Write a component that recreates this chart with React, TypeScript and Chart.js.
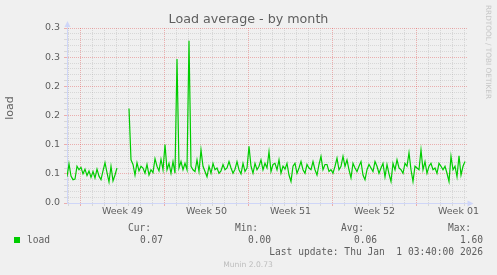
import React, { useEffect, useRef } from 'react';
import { Chart, registerables } from 'chart.js';

Chart.register(...registerables);

// ---------- data ----------
const TITLE = 'Load average - by month';
const Y_AXIS_TITLE = 'load';
const SERIES_NAME = 'load';
const WATERMARK = 'RRDTOOL / TOBI OETIKER';
const VERSION = 'Munin 2.0.73';
const LAST_UPDATE = 'Last update: Thu Jan  1 03:40:00 2026';

const STAT_HEADERS = ['Cur:', 'Min:', 'Avg:', 'Max:'];
const STAT_VALUES = ['0.07', '0.00', '0.06', '1.60'];

const SAMPLE_STEP_HOURS = 4;
const X_MAX_HOURS = 800;
const WEEK_LABELS = ['Week 49', 'Week 50', 'Week 51', 'Week 52', 'Week 01'];
const WEEK_START_HOURS = [27, 195, 363, 531, 699];
const WEEK_LABEL_HOURS = [111, 279, 447, 615, 783];
const FIRST_DAY_LINE_HOUR = 3;
const DAY_HOURS = 24;

const Y_MAX = 0.3;
const Y_TICK_LABELS = ['0.0', '0.1', '0.1', '0.2', '0.2', '0.3', '0.3'];
const Y_MINOR_PER_MAJOR = 5;

const LOAD: (number | null)[] = [
  0.045, 0.067, 0.046, 0.040, 0.041, 0.063, 0.057, 0.061, 0.050, 0.058,
  0.047, 0.055, 0.044, 0.054, 0.043, 0.058, 0.046, 0.040, 0.055, 0.069,
  0.052, 0.036, 0.063, 0.038, 0.048, 0.060, null, null, null, null,
  null, 0.162, 0.074, 0.066, 0.048, 0.069, 0.055, 0.063, 0.060, 0.051,
  0.066, 0.048, 0.057, 0.052, 0.076, 0.063, 0.055, 0.075, 0.057, 0.100,
  0.057, 0.068, 0.051, 0.071, 0.051, 0.247, 0.060, 0.071, 0.057, 0.068,
  0.057, 0.278, 0.063, 0.057, 0.054, 0.074, 0.054, 0.091, 0.063, 0.054,
  0.045, 0.063, 0.051, 0.068, 0.057, 0.060, 0.051, 0.055, 0.066, 0.057,
  0.060, 0.071, 0.060, 0.051, 0.058, 0.071, 0.057, 0.050, 0.068, 0.054,
  0.060, 0.097, 0.063, 0.051, 0.068, 0.057, 0.063, 0.074, 0.057, 0.068,
  0.060, 0.088, 0.054, 0.066, 0.068, 0.057, 0.074, 0.051, 0.063, 0.058,
  0.068, 0.048, 0.037, 0.063, 0.068, 0.051, 0.060, 0.071, 0.057, 0.051,
  0.066, 0.060, 0.057, 0.071, 0.057, 0.048, 0.066, 0.080, 0.057, 0.066,
  0.066, 0.054, 0.057, 0.051, 0.063, 0.077, 0.057, 0.063, 0.080, 0.063,
  0.074, 0.057, 0.043, 0.068, 0.060, 0.054, 0.063, 0.071, 0.048, 0.040,
  0.057, 0.066, 0.060, 0.054, 0.071, 0.063, 0.051, 0.060, 0.068, 0.045,
  0.066, 0.050, 0.037, 0.068, 0.057, 0.074, 0.060, 0.057, 0.051, 0.068,
  0.063, 0.086, 0.057, 0.037, 0.063, 0.060, 0.057, 0.091, 0.057, 0.071,
  0.051, 0.063, 0.068, 0.057, 0.060, 0.051, 0.068, 0.063, 0.057, 0.063,
  0.051, 0.037, 0.080, 0.057, 0.063, 0.045, 0.081, 0.048, 0.063, 0.071,
];

// ---------- style ----------
const W = 497;
const H = 275;
const BG = '#f0f0f0';
const FONT_COLOR = '#5e5e5e';
const AXIS_COLOR = '#cfd6f8';
const GRID_MINOR = 'rgba(143,143,143,0.26)';
const GRID_MAJOR = 'rgba(222,48,48,0.34)';
const LINE_COLOR = '#00cc00';
const SANS = "'DejaVu Sans', 'Noto Sans', sans-serif";
const MONO = "'DejaVu Sans Mono', monospace";

const axisArrows = {
  id: 'axisArrows',
  afterDraw(chart: any) {
    const { ctx, chartArea: a } = chart;
    ctx.save();
    ctx.fillStyle = AXIS_COLOR;
    ctx.strokeStyle = AXIS_COLOR;
    ctx.lineWidth = 1;
    // y arrow
    ctx.beginPath();
    ctx.moveTo(a.left + 0.5, a.top - 1);
    ctx.lineTo(a.left + 0.5, a.top + 1);
    ctx.stroke();
    ctx.beginPath();
    ctx.moveTo(a.left + 0.5, a.top - 7);
    ctx.lineTo(a.left - 2.5, a.top - 1);
    ctx.lineTo(a.left + 3.5, a.top - 1);
    ctx.closePath();
    ctx.fill();
    // x arrow
    ctx.beginPath();
    ctx.moveTo(a.right - 1, a.bottom + 0.5);
    ctx.lineTo(a.right + 1, a.bottom + 0.5);
    ctx.stroke();
    ctx.beginPath();
    ctx.moveTo(a.right + 6.5, a.bottom + 0.5);
    ctx.lineTo(a.right + 0.5, a.bottom - 2.5);
    ctx.lineTo(a.right + 0.5, a.bottom + 3.5);
    ctx.closePath();
    ctx.fill();
    ctx.restore();
  },
};

type TextProps = {
  x: number;
  baseline: number;
  size: number;
  family?: string;
  color?: string;
  align?: 'left' | 'right' | 'center';
  children: React.ReactNode;
};

function Txt({ x, baseline, size, family = SANS, color = FONT_COLOR, align = 'left', children }: TextProps) {
  const style: React.CSSProperties = {
    position: 'absolute',
    top: baseline - 0.846 * size,
    fontFamily: family,
    fontSize: size,
    lineHeight: `${size}px`,
    color,
    whiteSpace: 'pre',
    margin: 0,
  };
  if (align === 'right') style.right = W - x;
  else if (align === 'center') {
    style.left = x - 200;
    style.width = 400;
    style.textAlign = 'center';
  } else style.left = x;
  return <div style={style}>{children}</div>;
}

export default function App() {
  const canvasRef = useRef<HTMLCanvasElement | null>(null);

  useEffect(() => {
    if (!canvasRef.current) return;
    const dayLines: number[] = [];
    for (let h = FIRST_DAY_LINE_HOUR; h <= X_MAX_HOURS; h += DAY_HOURS) dayLines.push(h);
    const xTickValues = [...dayLines, ...WEEK_LABEL_HOURS].sort((a, b) => a - b);
    const yCount = (Y_TICK_LABELS.length - 1) * Y_MINOR_PER_MAJOR;
    const yTickValues: number[] = [];
    for (let i = 0; i <= yCount; i++) yTickValues.push((Y_MAX * i) / yCount);

    const chart = new Chart(canvasRef.current, {
      type: 'line',
      data: {
        datasets: [
          {
            label: SERIES_NAME,
            data: LOAD.map((v, i) => ({ x: i * SAMPLE_STEP_HOURS, y: v })) as any,
            borderColor: LINE_COLOR,
            borderWidth: 1.2,
            pointRadius: 0,
            tension: 0,
            spanGaps: false,
            fill: false,
          },
        ],
      },
      options: {
        animation: false,
        responsive: false,
        events: [],
        layout: { padding: { top: 28, right: 30, bottom: 52, left: 0 } },
        plugins: {
          legend: { display: false },
          tooltip: { enabled: false },
          title: { display: false },
        },
        scales: {
          x: {
            type: 'linear',
            min: 0,
            max: X_MAX_HOURS,
            afterFit: (s: any) => {
              s.height = 20;
            },
            afterBuildTicks: (s: any) => {
              s.ticks = xTickValues.map((v) => ({ value: v }));
            },
            grid: {
              color: (ctx: any) => {
                const v = ctx.tick?.value;
                if (WEEK_LABEL_HOURS.includes(v)) return 'rgba(0,0,0,0)';
                if (WEEK_START_HOURS.includes(v)) return GRID_MAJOR;
                return GRID_MINOR;
              },
              lineWidth: 1,
              tickLength: 3,
            },
            border: { display: true, color: AXIS_COLOR, width: 1, dash: [1, 1] },
            ticks: {
              autoSkip: false,
              maxRotation: 0,
              minRotation: 0,
              padding: 0,
              color: FONT_COLOR,
              font: { family: SANS, size: 9.5 },
              callback: (value: any) => {
                const idx = WEEK_LABEL_HOURS.indexOf(Number(value));
                return idx >= 0 ? WEEK_LABELS[idx] : '';
              },
            },
          },
          y: {
            type: 'linear',
            min: 0,
            max: Y_MAX,
            afterFit: (s: any) => {
              s.width = 67;
            },
            afterBuildTicks: (s: any) => {
              s.ticks = yTickValues.map((v) => ({ value: v }));
            },
            grid: {
              color: (ctx: any) => (ctx.index % Y_MINOR_PER_MAJOR === 0 ? GRID_MAJOR : GRID_MINOR),
              lineWidth: 1,
              tickLength: 3,
            },
            border: { display: true, color: AXIS_COLOR, width: 1, dash: [1, 1] },
            ticks: {
              autoSkip: false,
              padding: 4,
              color: FONT_COLOR,
              font: { family: SANS, size: 9.5 },
              callback: (_v: any, index: number) =>
                index % Y_MINOR_PER_MAJOR === 0 ? Y_TICK_LABELS[index / Y_MINOR_PER_MAJOR] : '',
            },
          },
        },
      } as any,
      plugins: [axisArrows],
    });
    return () => chart.destroy();
  }, []);

  const headerRight = [150, 257, 363, 470];
  const valueRight = [162, 270, 376, 482];

  return (
    <div style={{ position: 'absolute', left: 0, top: 0, width: W, height: H, background: BG, overflow: 'hidden' }}>
      <canvas ref={canvasRef} width={W} height={H} style={{ position: 'absolute', left: 0, top: 0, width: W, height: H }} />
      <Txt x={248.5} baseline={24} size={12.7} align="center">{TITLE}</Txt>
      <div
        style={{
          position: 'absolute',
          left: 4,
          top: 130,
          width: 44,
          textAlign: 'center',
          transform: 'rotate(-90deg)',
          transformOrigin: 'top left',
          fontFamily: SANS,
          fontSize: 11,
          lineHeight: '11px',
          color: FONT_COLOR,
          whiteSpace: 'pre',
        }}
      >
        {Y_AXIS_TITLE}
      </div>
      <div
        style={{
          position: 'absolute',
          left: 491.5,
          top: 5,
          transform: 'rotate(90deg)',
          transformOrigin: 'top left',
          fontFamily: SANS,
          fontSize: 7.3,
          lineHeight: '7.3px',
          color: '#c4c4c4',
          whiteSpace: 'pre',
        }}
      >
        {WATERMARK}
      </div>
      {STAT_HEADERS.map((h, i) => (
        <Txt key={h} x={headerRight[i] + 1} baseline={231} size={9.6} family={MONO} align="right">
          {h}
        </Txt>
      ))}
      <div style={{ position: 'absolute', left: 14, top: 237, width: 6, height: 6, background: LINE_COLOR }} />
      <Txt x={27} baseline={243} size={9.6} family={MONO}>
        {SERIES_NAME}
      </Txt>
      {STAT_VALUES.map((v, i) => (
        <Txt key={i} x={valueRight[i] + 1} baseline={243} size={9.6} family={MONO} align="right">
          {v}
        </Txt>
      ))}
      <Txt x={483} baseline={255} size={9.6} family={MONO} align="right">
        {LAST_UPDATE}
      </Txt>
      <Txt x={248} baseline={267} size={7.6} color="#bdbdbd" align="center">
        {VERSION}
      </Txt>
    </div>
  );
}
